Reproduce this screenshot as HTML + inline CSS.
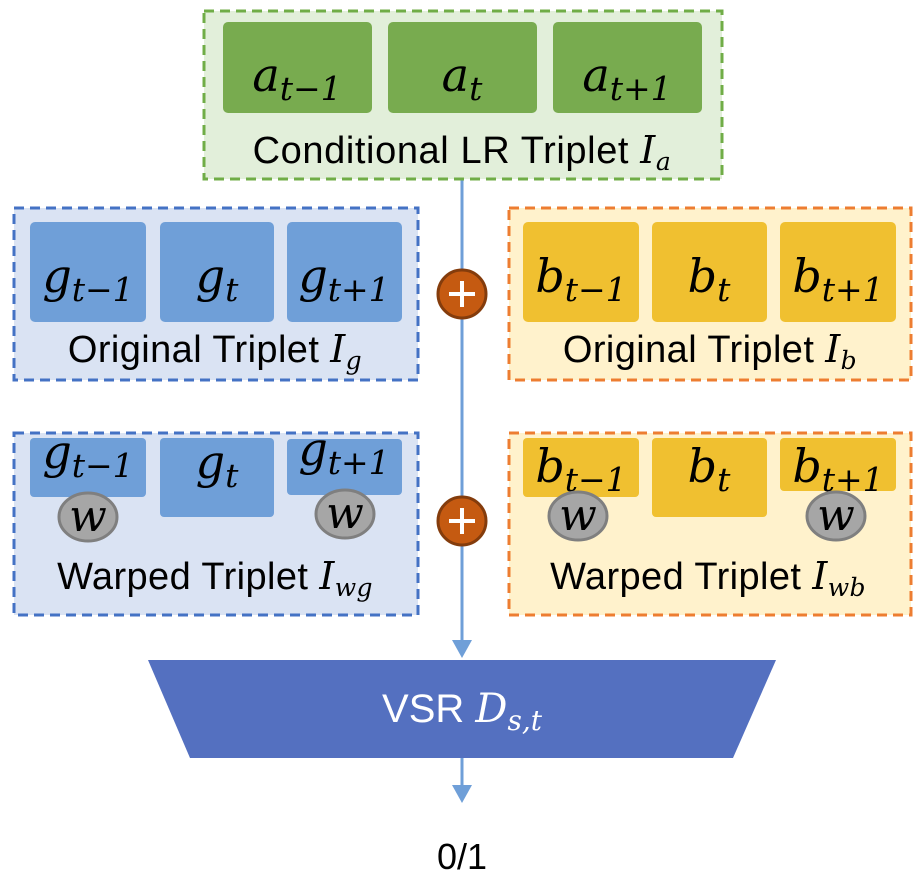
<!DOCTYPE html>
<html><head><meta charset="utf-8"><style>
html,body{margin:0;padding:0;background:#fff;width:922px;height:888px;overflow:hidden}
svg{display:block}
.m{font-family:"DejaVu Serif",serif;font-style:italic;fill:#000}
.s{font-family:"Liberation Sans",sans-serif;fill:#000}
</style></head><body>
<svg width="922" height="888" viewBox="0 0 922 888">
<line x1="462" y1="180" x2="462" y2="645" stroke="#6f9fd8" stroke-width="3"/>
<path d="M452,640 L472,640 L462,658 z" fill="#6f9fd8"/>
<g>
<rect x="204" y="11" width="518" height="168" fill="#e2efda" stroke="#70ad47" stroke-width="3" stroke-dasharray="10,6"/>
<rect x="223" y="22" width="149" height="91" rx="5" fill="#78ab4f"/>
<rect x="388" y="22" width="149" height="91" rx="5" fill="#78ab4f"/>
<rect x="553" y="22" width="149" height="91" rx="5" fill="#78ab4f"/>
<text class="m" x="297" y="91" font-size="46" text-anchor="middle">a<tspan font-size="33" dy="9">t−1</tspan></text>
<text class="m" x="462" y="91" font-size="46" text-anchor="middle">a<tspan font-size="33" dy="9">t</tspan></text>
<text class="m" x="627" y="91" font-size="46" text-anchor="middle">a<tspan font-size="33" dy="9">t+1</tspan></text>
<text class="s" x="462" y="163" font-size="38" text-anchor="middle" letter-spacing="0.6">Conditional LR Triplet <tspan class="m">I<tspan font-size="25" dy="7">a</tspan></tspan></text>
</g>
<g>
<rect x="14" y="208" width="404" height="172" fill="#dae3f3" stroke="#4472c4" stroke-width="3" stroke-dasharray="10,6"/>
<rect x="30" y="222" width="116" height="100" rx="5" fill="#6f9fd8"/>
<rect x="160" y="222" width="114" height="100" rx="5" fill="#6f9fd8"/>
<rect x="287" y="222" width="115" height="100" rx="5" fill="#6f9fd8"/>
<text class="m" x="88" y="292" font-size="46" text-anchor="middle">g<tspan font-size="33" dy="9">t−1</tspan></text>
<text class="m" x="217" y="292" font-size="46" text-anchor="middle">g<tspan font-size="33" dy="9">t</tspan></text>
<text class="m" x="344" y="292" font-size="46" text-anchor="middle">g<tspan font-size="33" dy="9">t+1</tspan></text>
<text class="s" x="215" y="362" font-size="38" text-anchor="middle" letter-spacing="0.4">Original Triplet <tspan class="m">I<tspan font-size="25" dy="7">g</tspan></tspan></text>
</g>
<g>
<rect x="509" y="208" width="402" height="172" fill="#fff2cc" stroke="#ed7d31" stroke-width="3" stroke-dasharray="10,6"/>
<rect x="523" y="222" width="116" height="100" rx="5" fill="#f0c030"/>
<rect x="652" y="222" width="115" height="100" rx="5" fill="#f0c030"/>
<rect x="780" y="222" width="116" height="100" rx="5" fill="#f0c030"/>
<text class="m" x="581" y="292" font-size="46" text-anchor="middle">b<tspan font-size="33" dy="9">t−1</tspan></text>
<text class="m" x="709" y="292" font-size="46" text-anchor="middle">b<tspan font-size="33" dy="9">t</tspan></text>
<text class="m" x="838" y="292" font-size="46" text-anchor="middle">b<tspan font-size="33" dy="9">t+1</tspan></text>
<text class="s" x="710" y="362" font-size="38" text-anchor="middle" letter-spacing="0.4">Original Triplet <tspan class="m">I<tspan font-size="25" dy="7">b</tspan></tspan></text>
</g>
<g>
<rect x="14" y="433" width="404" height="182" fill="#dae3f3" stroke="#4472c4" stroke-width="3" stroke-dasharray="10,6"/>
<rect x="30" y="438" width="116" height="59" rx="4" fill="#6f9fd8"/>
<rect x="160" y="438" width="114" height="79" rx="4" fill="#6f9fd8"/>
<rect x="287" y="439" width="115" height="56" rx="4" fill="#6f9fd8"/>
<text class="m" x="88" y="468" font-size="46" text-anchor="middle">g<tspan font-size="33" dy="9">t−1</tspan></text>
<text class="m" x="217" y="478" font-size="46" text-anchor="middle">g<tspan font-size="33" dy="9">t</tspan></text>
<text class="m" x="344" y="465" font-size="46" text-anchor="middle">g<tspan font-size="33" dy="9">t+1</tspan></text>
<ellipse cx="88" cy="517" rx="29" ry="24" fill="#a6a6a6" stroke="#7f7f7f" stroke-width="3"/>
<ellipse cx="345" cy="514" rx="29" ry="24" fill="#a6a6a6" stroke="#7f7f7f" stroke-width="3"/>
<text class="m" x="88" y="531" font-size="44" text-anchor="middle">w</text>
<text class="m" x="345" y="528" font-size="44" text-anchor="middle">w</text>
<text class="s" x="215" y="589" font-size="38" text-anchor="middle" letter-spacing="0.4">Warped Triplet <tspan class="m">I<tspan font-size="25" dy="7">wg</tspan></tspan></text>
</g>
<g>
<rect x="509" y="433" width="402" height="182" fill="#fff2cc" stroke="#ed7d31" stroke-width="3" stroke-dasharray="10,6"/>
<rect x="523" y="438" width="116" height="59" rx="4" fill="#f0c030"/>
<rect x="652" y="438" width="115" height="79" rx="4" fill="#f0c030"/>
<rect x="780" y="438" width="116" height="53" rx="4" fill="#f0c030"/>
<text class="m" x="581" y="482" font-size="46" text-anchor="middle">b<tspan font-size="33" dy="9">t−1</tspan></text>
<text class="m" x="709" y="482" font-size="46" text-anchor="middle">b<tspan font-size="33" dy="9">t</tspan></text>
<text class="m" x="838" y="482" font-size="46" text-anchor="middle">b<tspan font-size="33" dy="9">t+1</tspan></text>
<ellipse cx="578" cy="516" rx="29" ry="24" fill="#a6a6a6" stroke="#7f7f7f" stroke-width="3"/>
<ellipse cx="836" cy="516" rx="29" ry="24" fill="#a6a6a6" stroke="#7f7f7f" stroke-width="3"/>
<text class="m" x="578" y="530" font-size="44" text-anchor="middle">w</text>
<text class="m" x="836" y="530" font-size="44" text-anchor="middle">w</text>
<text class="s" x="708" y="589" font-size="38" text-anchor="middle" letter-spacing="0.4">Warped Triplet <tspan class="m">I<tspan font-size="25" dy="7">wb</tspan></tspan></text>
</g>
<g>
<circle cx="462" cy="294" r="24" fill="#c55a11" stroke="#843c0c" stroke-width="3"/>
<path d="M449,294 H475 M462,281 V307" stroke="#fff" stroke-width="4"/>
</g>
<g>
<circle cx="462" cy="521" r="24" fill="#c55a11" stroke="#843c0c" stroke-width="3"/>
<path d="M449,521 H475 M462,508 V534" stroke="#fff" stroke-width="4"/>
</g>
<g>
<path d="M148,660 L776,660 L733,758 L190,758 z" fill="#5470c0"/>
<text x="462" y="722" font-size="40" text-anchor="middle" font-family="Liberation Sans,sans-serif" fill="#fff">VSR <tspan font-family="DejaVu Serif,serif" font-style="italic">D<tspan font-size="28" dy="8">s,t</tspan></tspan></text>
</g>
<line x1="462" y1="758" x2="462" y2="788" stroke="#6f9fd8" stroke-width="3"/>
<path d="M452,785 L472,785 L462,803 z" fill="#6f9fd8"/>
<text class="s" x="462" y="869" font-size="36" text-anchor="middle">0/1</text>
</svg>
</body></html>
